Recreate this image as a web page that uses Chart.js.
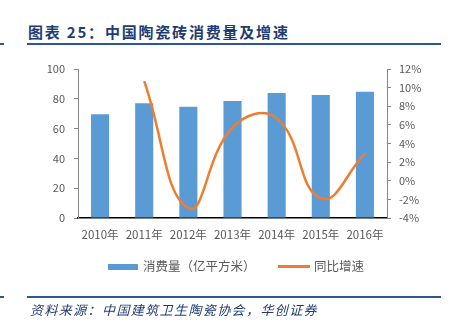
<!DOCTYPE html>
<html>
<head>
<meta charset="utf-8">
<script src="https://cdn.jsdelivr.net/npm/chart.js@4.4.1/dist/chart.umd.min.js"></script>
<style>
  html, body { margin: 0; padding: 0; background: #fff; }
  body { width: 451px; height: 333px; position: relative; overflow: hidden; font-family: "Noto Sans CJK SC", sans-serif; }
  #wrap { position: absolute; left: 0; top: 0; width: 451px; height: 333px; }
  .title { position: absolute; left: 28px; top: 21px; font-size: 15px; font-weight: bold; color: #1F3B73; letter-spacing: 1.8px; line-height: 22px; white-space: nowrap; }
  .rule { position: absolute; height: 2px; background: #2E5597; }
  .legend { position: absolute; top: 256px; font-size: 12.5px; color: #595959; line-height: 20px; white-space: nowrap; }
  .source { position: absolute; left: 30px; top: 300px; font-size: 13px; font-style: italic; color: #1F3B73; letter-spacing: 1.4px; line-height: 20px; white-space: nowrap; }
</style>
</head>
<body>
<div class="title">图表 25：中国陶瓷砖消费量及增速</div>
<div class="rule" style="left:0;width:4px;top:43px;"></div>
<div class="rule" style="left:27px;width:414px;top:43px;"></div>
<div id="wrap"><canvas id="chart" width="451" height="333"></canvas></div>
<div class="legend" style="left:108px;"><span style="display:inline-block;width:30px;height:6px;background:#5B9BD5;vertical-align:middle;margin-right:5px;position:relative;top:-1px;"></span>消费量（亿平方米）</div>
<div class="legend" style="left:278px;"><span style="display:inline-block;width:32px;height:2.5px;background:#ED7D31;vertical-align:middle;margin-right:4px;position:relative;top:-1px;"></span>同比增速</div>
<div class="rule" style="left:0;width:4px;top:296px;"></div>
<div class="rule" style="left:27px;width:414px;top:296px;"></div>
<div class="source">资料来源：中国建筑卫生陶瓷协会，华创证券</div>
<script>
var years = ["2010年", "2011年", "2012年", "2013年", "2014年", "2015年", "2016年"];
var consumption = [69.6, 77.0, 74.7, 78.5, 83.9, 82.5, 84.8];
var growth = [null, 10.7, -2.95, 5.7, 6.7, -1.9, 2.9];
var leftTicks = [0, 20, 40, 60, 80, 100];
var rightTicks = [-4, -2, 0, 2, 4, 6, 8, 10, 12];

var ctx = document.getElementById("chart");
var tickFont = { family: "Noto Sans CJK SC", size: 11 };

var chart = new Chart(ctx, {
  type: 'bar',
  data: {
    labels: years,
    datasets: [
      {
        type: 'line',
        label: '同比增速',
        data: growth,
        yAxisID: 'y1',
        borderColor: '#ED7D31',
        borderWidth: 2.5,
        pointRadius: 0,
        tension: 0.45,
        fill: false,
        order: 0
      },
      {
        type: 'bar',
        label: '消费量（亿平方米）',
        data: consumption,
        yAxisID: 'y',
        backgroundColor: '#5B9BD5',
        barPercentage: 0.41,
        categoryPercentage: 1.0,
        order: 1
      }
    ]
  },
  options: {
    responsive: false,
    animation: false,
    layout: { padding: { top: 69, bottom: 0, left: 0, right: 0 } },
    plugins: {
      legend: { display: false },
      tooltip: { enabled: false }
    },
    scales: {
      x: {
        grid: { display: false, drawTicks: false },
        border: { display: true, color: '#000000', width: 1.5 },
        ticks: { color: '#595959', font: { family: "Noto Sans CJK SC", size: 11.5 }, padding: 10, maxRotation: 0 },
        afterFit: function(scale) { scale.height = 333 - 218; }
      },
      y: {
        position: 'left',
        min: 0, max: 100,
        afterBuildTicks: function(scale) { scale.ticks = leftTicks.map(function(v){ return { value: v }; }); },
        grid: { drawOnChartArea: false, drawTicks: true, tickLength: 4, color: '#868686' },
        border: { display: true, color: '#868686', width: 1 },
        ticks: { color: '#595959', font: tickFont, padding: 9 },
        afterFit: function(scale) { scale.width = 78; }
      },
      y1: {
        position: 'right',
        min: -4, max: 12,
        afterBuildTicks: function(scale) { scale.ticks = rightTicks.map(function(v){ return { value: v }; }); },
        grid: { drawOnChartArea: false, drawTicks: true, tickLength: 4, color: '#868686' },
        border: { display: true, color: '#868686', width: 1 },
        ticks: { color: '#595959', font: tickFont, padding: 8, callback: function(v){ return v + '%'; } },
        afterFit: function(scale) { scale.width = 451 - 387; }
      }
    }
  }
});
</script>
</body>
</html>
